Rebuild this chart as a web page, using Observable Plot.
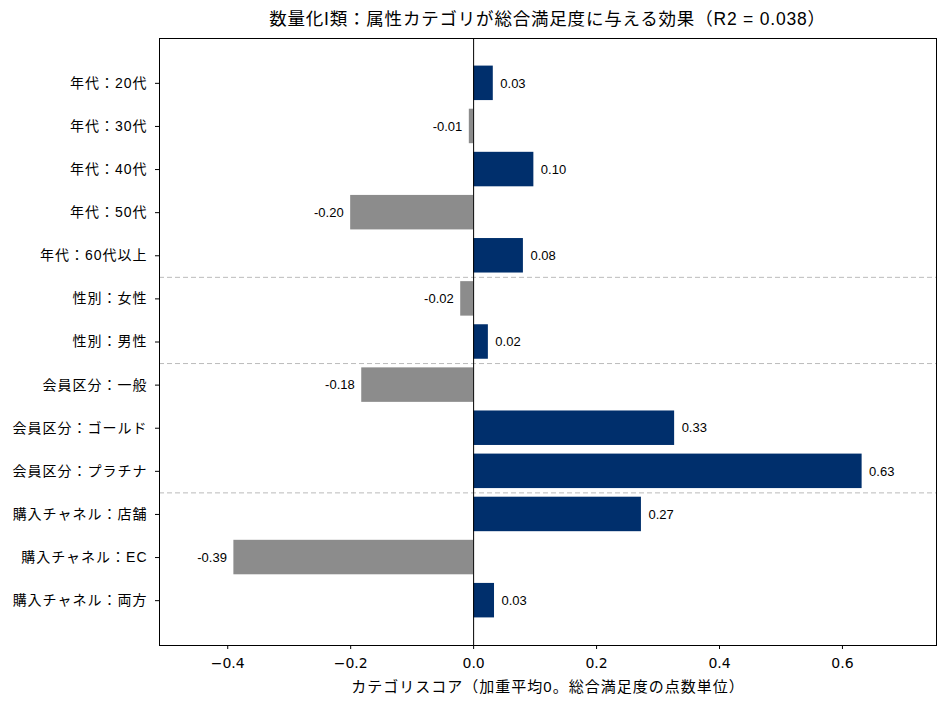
<!DOCTYPE html>
<html><head><meta charset="utf-8">
<script src="https://cdn.jsdelivr.net/npm/d3@7"></script>
<script src="https://cdn.jsdelivr.net/npm/@observablehq/plot@0.6"></script>
<style>
body{margin:0;background:#fff;font-family:"Liberation Sans","Noto Sans CJK JP",sans-serif;}
#title{height:30px;margin-left:159px;width:777px;text-align:center;font-size:17.5px;letter-spacing:0.8px;line-height:38px;color:#000;white-space:nowrap;}
</style></head>
<body>
<div id="title">数量化I類：属性カテゴリが総合満足度に与える効果（R2 = 0.038）</div>
<div id="chart"></div>
<script>
const categories = ["年代：20代","年代：30代","年代：40代","年代：50代","年代：60代以上","性別：女性","性別：男性","会員区分：一般","会員区分：ゴールド","会員区分：プラチナ","購入チャネル：店舗","購入チャネル：EC","購入チャネル：両方"];
const scores = [0.032,-0.007,0.098,-0.200,0.081,-0.021,0.024,-0.182,0.327,0.632,0.273,-0.390,0.034];
const xTicks = [-0.4,-0.2,0.0,0.2,0.4,0.6];
const xDomain = [-0.511,0.753];

const data = categories.map((c,i)=>({cat:c,i,value:scores[i],group:c.split("：")[0]}));
const boundaries = data.slice(1).filter((d,k)=>d.group!==data[k].group).map(d=>d.i-0.5);
const n = categories.length;
const pad = 0.05*(n-1+0.8);
const navy = "#002f6c", gray = "#8c8c8c";
const font = '"Liberation Sans","Noto Sans CJK JP",sans-serif';

const chart = Plot.plot({
  width:947, height:678,
  marginTop:8, marginBottom:63, marginLeft:159, marginRight:11,
  style:{fontFamily:font, color:"#000", background:"#fff"},
  x:{domain:xDomain},
  y:{domain:[-0.4-pad, n-1+0.4+pad], reverse:true},
  marks:[
    Plot.ruleY(boundaries,{stroke:"#bbbbbb",strokeDasharray:"5,3",strokeWidth:1}),
    Plot.rectX(data,{x1:0,x2:"value",y1:d=>d.i-0.4,y2:d=>d.i+0.4,fill:d=>d.value>=0?navy:gray}),
    Plot.ruleX([0],{stroke:"#000",strokeWidth:1}),
    Plot.text(data.filter(d=>d.value>=0),{x:"value",y:"i",text:d=>d3.format(".2f")(d.value),textAnchor:"start",dx:7,fontSize:13,fill:"#000"}),
    Plot.text(data.filter(d=>d.value<0),{x:"value",y:"i",text:d=>d3.format(".2f")(d.value).replace("−","-"),textAnchor:"end",dx:-7,fontSize:13,fill:"#000"}),
    Plot.frame({stroke:"#000",strokeWidth:1}),
    Plot.axisY({ticks:d3.range(n),tickFormat:i=>categories[i],tickSize:4,tickPadding:8,fontSize:14,label:null}),
    Plot.axisX({ticks:xTicks,tickFormat:d3.format(".1f"),tickSize:4,tickPadding:9,fontSize:14,fontFamily:"DejaVu Sans",label:"カテゴリスコア（加重平均0。総合満足度の点数単位）",labelAnchor:"center",labelArrow:"none",labelOffset:46})
  ]
});
chart.querySelectorAll("g[aria-label='y-axis tick label'] text").forEach(t=>t.setAttribute("letter-spacing","1"));
chart.querySelectorAll("g[aria-label='x-axis label'] text").forEach(t=>{t.setAttribute("font-size","15");t.setAttribute("letter-spacing","1");t.setAttribute("font-family",font);});
document.getElementById("chart").appendChild(chart);
</script>
</body></html>
